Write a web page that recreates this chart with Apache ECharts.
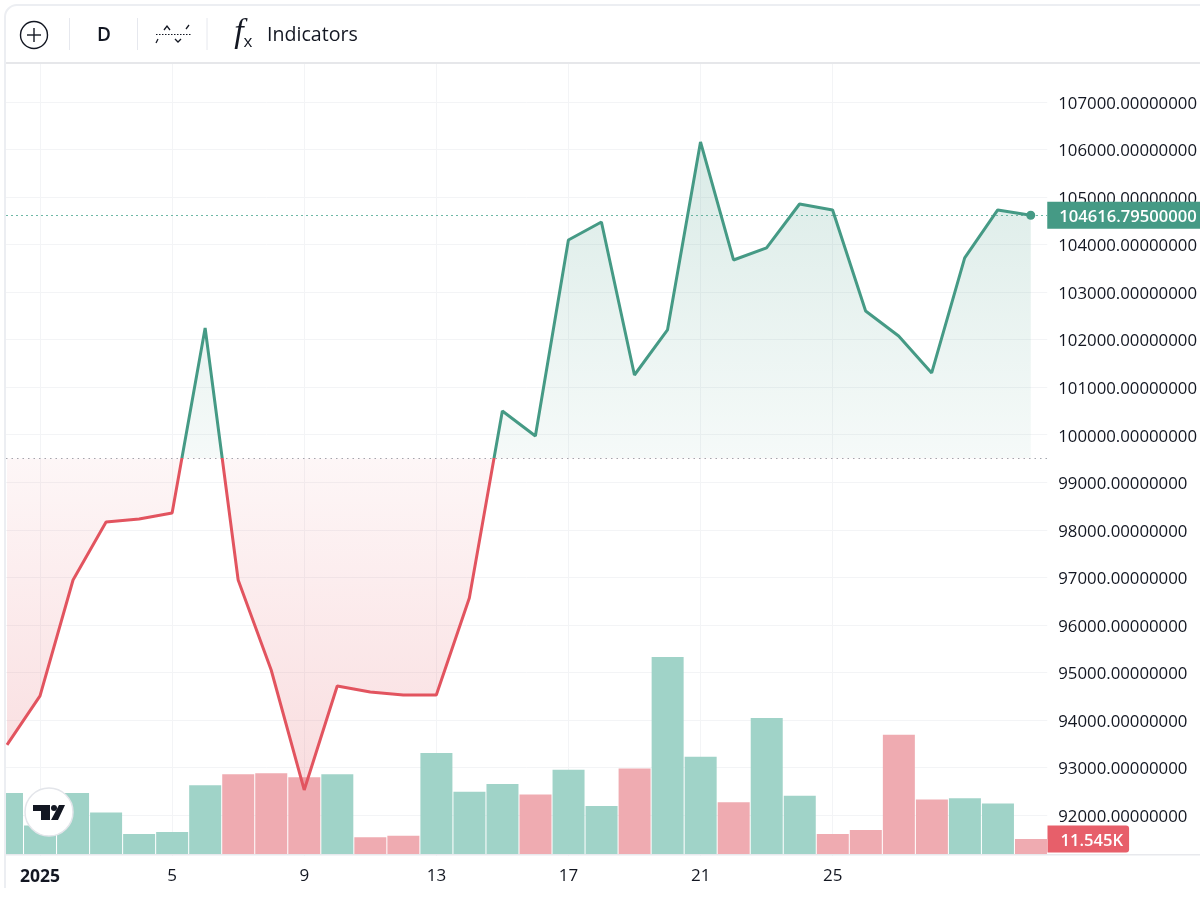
<!DOCTYPE html>
<html>
<head>
<meta charset="utf-8">
<style>
  html, body { margin: 0; padding: 0; background: #fff; }
  #chart { width: 1200px; height: 908px; }
</style>
<script src="https://cdn.jsdelivr.net/npm/echarts@6/dist/echarts.min.js"></script>
</head>
<body>
<div id="chart"></div>
<script>
// day index 0 is 31 Dec, index 1 is 1 Jan 2025
var tickDays = [1, 5, 9, 13, 17, 21, 25];
var tickLabels = ["2025", "5", "9", "13", "17", "21", "25"];
var prices = [93473, 94504, 96944, 98165, 98228, 98354, 102246, 96944, 95050, 92526, 94714, 94588,
  94525, 94525, 96565, 100500, 99974, 104098, 104477, 101257, 102204, 106160, 103677, 103930,
  104855, 104729, 102604, 102078, 101300, 103720, 104729, 104616.795];
var volumes = [47, 22, 47, 32, 15.4, 17, 53, 61.6, 62.4, 59.3, 61.6, 13, 14, 78, 48, 54, 46, 65, 37,
  66, 152, 75, 40, 105, 45, 15.4, 18.5, 92, 42, 43, 39, 11.545];
var volumeUp = [1, 1, 1, 1, 1, 1, 1, 0, 0, 0, 1, 0, 0, 1, 1, 1, 0, 1, 1, 0, 1, 1, 0, 1, 1, 0, 0, 0, 0, 1, 1, 0];
var baseline = 99500;
var lastPrice = 104616.795;
var lastVolume = 11.545;

var GREEN = "#459a85";
var RED = "#e2545f";
var INK = "#131722";
var GRID = "#f3f4f6";
var FONT = "'Open Sans', sans-serif";

var hiPrice = Math.max.apply(null, prices);
var loPrice = Math.min.apply(null, prices);
var split = (hiPrice - baseline) / (hiPrice - loPrice);

function vertical(o) {
  return { type: "linear", x: 0, y: 0, x2: 0, y2: 1, colorStops: o };
}

function tag(text, bg, padding, radius) {
  return {
    show: true, position: "end", distance: 0, formatter: "{n|" + text + "}",
    backgroundColor: bg, padding: padding, borderRadius: radius,
    rich: { n: { color: "#fff", fontFamily: FONT, fontSize: 16.6, fontWeight: 600, lineHeight: 21, verticalAlign: "bottom" } }
  };
}

var toolbar = [
  { type: "rect", z: 100, shape: { x: 0, y: 0, width: 1200, height: 63 }, style: { fill: "#fff" } },
  { type: "rect", z: 100, shape: { x: 0, y: 0, width: 5, height: 908 }, style: { fill: "#fff" } },
  { type: "rect", z: 100, shape: { x: 0, y: 856, width: 1048, height: 9 }, style: { fill: "#fff" } },
  { type: "rect", z: 101, shape: { x: 5, y: 854, width: 1195, height: 1.5 }, style: { fill: "#e8e9ed" } },
  { type: "rect", z: 101, shape: { x: 5, y: 62, width: 1195, height: 2 }, style: { fill: "#e6e7ea" } },
  { type: "line", z: 101, shape: { x1: 5, y1: 17, x2: 5, y2: 888 }, style: { stroke: "#eceef2", lineWidth: 2 } },
  { type: "line", z: 101, shape: { x1: 17, y1: 5, x2: 1200, y2: 5 }, style: { stroke: "#eceef2", lineWidth: 2 } },
  { type: "arc", z: 101, shape: { cx: 17, cy: 17, r: 12, startAngle: Math.PI, endAngle: Math.PI * 1.5 }, style: { fill: "none", stroke: "#eceef2", lineWidth: 2 } },
  { type: "circle", z: 101, shape: { cx: 34, cy: 35, r: 13.5 }, style: { fill: "none", stroke: INK, lineWidth: 1.4 } },
  { type: "line", z: 101, shape: { x1: 27, y1: 35, x2: 41, y2: 35 }, style: { stroke: INK, lineWidth: 1.4 } },
  { type: "line", z: 101, shape: { x1: 34, y1: 28, x2: 34, y2: 42 }, style: { stroke: INK, lineWidth: 1.4 } },
  { type: "line", z: 101, shape: { x1: 69.5, y1: 18, x2: 69.5, y2: 50 }, style: { stroke: "#e6e8ee", lineWidth: 1 } },
  { type: "line", z: 101, shape: { x1: 137.5, y1: 18, x2: 137.5, y2: 50 }, style: { stroke: "#e6e8ee", lineWidth: 1 } },
  { type: "line", z: 101, shape: { x1: 207, y1: 18, x2: 207, y2: 50 }, style: { stroke: "#e6e8ee", lineWidth: 1 } },
  { type: "text", z: 101, style: { x: 104, y: 35.5, text: "D", fill: INK, font: "600 19px " + FONT, textAlign: "center", textVerticalAlign: "middle" } },
  { type: "line", z: 101, shape: { x1: 156, y1: 34.5, x2: 191, y2: 34.5 }, style: { stroke: INK, lineWidth: 1, lineDash: [1.5, 1.5] } },
  { type: "polyline", z: 101, shape: { points: [[156, 43], [158, 39]] }, style: { stroke: INK, lineWidth: 1.3, fill: "none" } },
  { type: "polyline", z: 101, shape: { points: [[164, 30], [167, 26], [170, 30]] }, style: { stroke: INK, lineWidth: 1.3, fill: "none" } },
  { type: "polyline", z: 101, shape: { points: [[175, 39], [178, 42], [181, 39]] }, style: { stroke: INK, lineWidth: 1.3, fill: "none" } },
  { type: "polyline", z: 101, shape: { points: [[186, 29], [189, 25]] }, style: { stroke: INK, lineWidth: 1.3, fill: "none" } },
  { type: "text", z: 101, style: { x: 239, y: 33, text: "f", fill: INK, font: "italic 34px 'Liberation Serif', serif", textAlign: "center", textVerticalAlign: "middle" } },
  { type: "text", z: 101, style: { x: 248, y: 42, text: "x", fill: INK, font: "500 17px " + FONT, textAlign: "center", textVerticalAlign: "middle" } },
  { type: "text", z: 101, style: { x: 267, y: 35.5, text: "Indicators", fill: INK, font: "500 19.6px " + FONT, textAlign: "left", textVerticalAlign: "middle" } },
  { type: "circle", z: 101, shape: { cx: 49, cy: 812, r: 24 }, style: { fill: "#fff", stroke: "#e3e5ea", lineWidth: 1.5 } },
  { type: "polygon", z: 102, shape: { points: [[33, 805], [50, 805], [50, 820], [41, 820], [41, 811], [33, 811]] }, style: { fill: INK } },
  { type: "circle", z: 102, shape: { cx: 54, cy: 808, r: 3 }, style: { fill: INK } },
  { type: "polygon", z: 102, shape: { points: [[59, 805], [65, 805], [58, 820], [51, 820]] }, style: { fill: INK } }
];

var dayAxis = {
  type: "value", min: -0.03, max: 31.5,
  axisLine: { show: false }
};

var chart = echarts.init(document.getElementById("chart"), null, { renderer: "canvas" });
chart.setOption({
  animation: false,
  backgroundColor: "#fff",
  textStyle: { fontFamily: FONT },
  graphic: toolbar,
  grid: [
    { left: 6, right: 152.5, top: 54.5, bottom: 45.5 },
    { left: 6, right: 152.5, top: 600, bottom: 54 }
  ],
  xAxis: [
    Object.assign({}, dayAxis, {
      gridIndex: 0,
      axisTick: { show: false, customValues: tickDays },
      axisLabel: { show: false, customValues: tickDays },
      splitLine: { show: true, lineStyle: { color: GRID, width: 1 } }
    }),
    Object.assign({}, dayAxis, {
      gridIndex: 1,
      axisTick: { show: false, customValues: tickDays },
      splitLine: { show: false },
      axisLabel: {
        show: true, customValues: tickDays, margin: 14, color: INK, fontFamily: FONT, fontSize: 17, fontWeight: 500,
        formatter: function (v) {
          var s = tickLabels[tickDays.indexOf(v)];
          return s === "2025" ? "{y|" + s + "}" : s;
        },
        rich: { y: { fontFamily: FONT, fontSize: 17.5, fontWeight: 700, color: INK } }
      }
    })
  ],
  yAxis: [
    {
      type: "value", gridIndex: 0, position: "right", min: 91000, max: 108000, interval: 1000,
      axisLine: { show: false }, axisTick: { show: false },
      splitLine: { show: true, lineStyle: { color: GRID, width: 1 } },
      axisLabel: {
        margin: 11, showMinLabel: false, showMaxLabel: false,
        formatter: function (v) { return "{n|" + v.toFixed(8) + "}"; },
        rich: { n: { color: INK, fontFamily: FONT, fontSize: 16.8, lineHeight: 21, verticalAlign: "bottom" } }
      }
    },
    {
      type: "value", gridIndex: 1, min: 0, max: 196, show: false
    }
  ],
  series: [
    {
      type: "bar", xAxisIndex: 1, yAxisIndex: 1, z: 2, barWidth: 32, silent: true,
      data: volumes.map(function (v, i) {
        return { value: [i, v], itemStyle: { color: volumeUp[i] ? "#9dd2c6" : "#eea8ae", opacity: 0.97 } };
      }),
      markLine: {
        silent: true, symbol: "none", lineStyle: { color: "rgba(0,0,0,0)" },
        data: [{ yAxis: lastVolume, label: tag("11.545K", "#e75f6a", [3, 6, 3, 13], [0, 3, 3, 0]) }]
      }
    },
    {
      type: "line", xAxisIndex: 0, yAxisIndex: 0, z: 5, smooth: false, silent: true,
      data: prices.map(function (p, i) { return [i, p]; }),
      showSymbol: true, showAllSymbol: true, symbol: "circle",
      symbolSize: function (v, p) { return p.dataIndex === prices.length - 1 ? 9 : 0; },
      itemStyle: { color: GREEN },
      lineStyle: {
        width: 3,
        color: vertical([
          { offset: 0, color: GREEN }, { offset: split, color: GREEN },
          { offset: split, color: RED }, { offset: 1, color: RED }
        ])
      },
      areaStyle: {
        origin: baseline, opacity: 1,
        color: vertical([
          { offset: 0, color: "rgba(69,154,133,0.2)" }, { offset: split, color: "rgba(69,154,133,0.05)" },
          { offset: split, color: "rgba(226,84,95,0.05)" }, { offset: 1, color: "rgba(226,84,95,0.2)" }
        ])
      },
      markLine: {
        silent: true, symbol: "none",
        lineStyle: { color: "#a3a6ae", type: [1.5, 4], width: 1.2 },
        label: { show: false },
        data: [{ yAxis: baseline }]
      }
    },
    {
      type: "line", xAxisIndex: 0, yAxisIndex: 0, z: 4, silent: true, data: [],
      markLine: {
        silent: true, symbol: "none",
        lineStyle: { color: "#6fb8a6", type: [2, 3], width: 1 },
        data: [{ yAxis: lastPrice, label: tag("104616.79500000", GREEN, [3, 4, 3, 12], 0) }]
      }
    }
  ]
});
</script>
</body>
</html>
